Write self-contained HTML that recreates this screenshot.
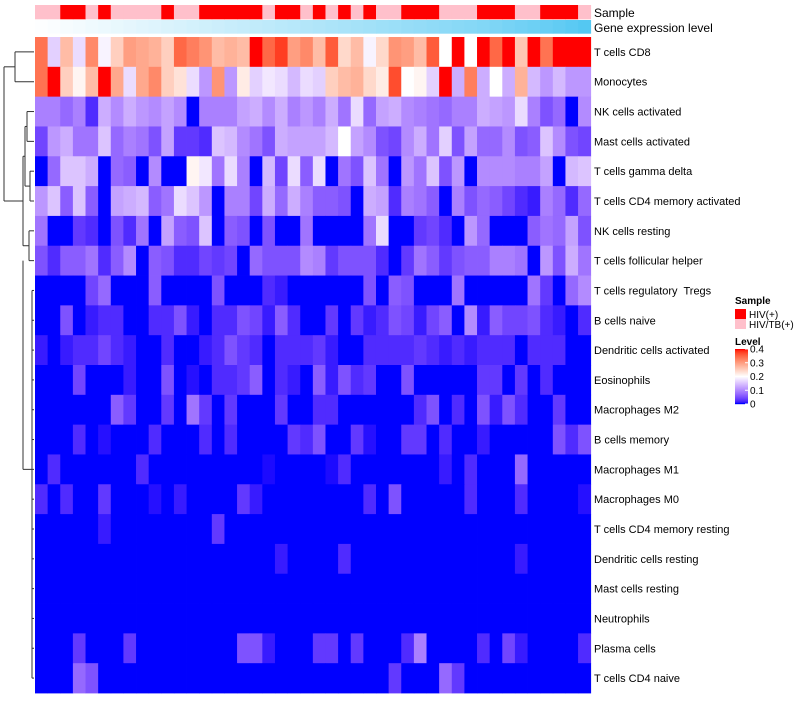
<!DOCTYPE html>
<html><head><meta charset="utf-8"><style>
body{margin:0;background:#fff;width:800px;height:700px;overflow:hidden;font-family:"Liberation Sans",sans-serif}
#labels text{white-space:pre}
</style></head><body>
<svg id="chart" width="800" height="700" xmlns="http://www.w3.org/2000/svg" font-family="Liberation Sans, sans-serif">
<g id="dendro" stroke="#333" stroke-width="1" fill="none"></g>
<g id="cells"></g>
<g id="annot"></g>
<g id="labels" font-size="11" fill="#000"></g>
<text x="594" y="17" font-size="12">Sample</text>
<text x="594" y="32" font-size="12">Gene expression level</text>
<g font-size="10">
<text x="735" y="304" font-weight="bold">Sample</text>
<rect x="735" y="309" width="11" height="10" fill="#ff0000"/>
<text x="749" y="318">HIV(+)</text>
<rect x="735" y="319" width="11" height="10" fill="#ffc0cb"/>
<text x="749" y="328">HIV/TB(+)</text>
</g>
<g font-size="10">
<text x="735" y="345" font-weight="bold">Level</text>
<g id="cbar"></g>
</g>
</svg>
<script>
const rowNames=["T cells CD8","Monocytes","NK cells activated","Mast cells activated","T cells gamma delta","T cells CD4 memory activated","NK cells resting","T cells follicular helper","T cells regulatory  Tregs","B cells naive","Dendritic cells activated","Eosinophils","Macrophages M2","B cells memory","Macrophages M1","Macrophages M0","T cells CD4 memory resting","Dendritic cells resting","Mast cells resting","Neutrophils","Plasma cells","T cells CD4 naive"];
const sampleGroup="PPRRPRPPPPRPPRRRRRPRRPRPRPRPPRRRPPPRRRPPRRRP".split("");
const geneExpr=[0.01,0.03,0.05,0.07,0.09,0.11,0.13,0.15,0.17,0.19,0.21,0.23,0.25,0.27,0.29,0.31,0.33,0.35,0.37,0.39,0.41,0.43,0.45,0.47,0.49,0.51,0.53,0.55,0.57,0.59,0.61,0.63,0.65,0.67,0.69,0.71,0.74,0.77,0.80,0.83,0.86,0.89,0.93,0.97];
const levelTicks=[0,0.1,0.2,0.3,0.4];
const r0=[.34,.16,.27,.17,.32,.19,.25,.30,.29,.28,.25,.35,.33,.31,.27,.28,.27,.42,.35,.38,.30,.32,.27,.36,.24,.27,.19,.24,.31,.30,.27,.36,.2,.42,.2,.42,.35,.42,.26,.42,.34,.45,.45,.4];
const r1=[.34,.42,.25,.21,.27,.42,.29,.17,.29,.32,.25,.23,.17,.11,.31,.11,.22,.16,.18,.17,.14,.17,.16,.25,.27,.28,.24,.22,.37,.2,.21,.16,.42,.13,.33,.13,.2,.13,.28,.14,.11,.14,.11,.11];
const r2=[.09,.09,.07,.09,.02,.13,.10,.13,.11,.10,.12,.10,0,.09,.09,.09,.12,.13,.10,.13,.09,.11,.09,.13,.08,.17,.07,.12,.13,.10,.09,.08,.07,.09,.09,.13,.12,.11,.17,.09,.05,.07,0,.10];
const r3=[.04,.11,.13,.08,.08,.15,.07,.09,.08,.05,.12,.03,.03,.02,.15,.14,.10,.08,.05,.13,.12,.12,.12,.14,.2,.12,.10,.05,.04,.10,.13,.08,.16,.05,.12,.07,.07,.10,.05,.06,.15,.10,.05,.04];
const r4=[0,.07,.15,.15,.13,0,.07,.06,0,.10,0,0,.21,.18,.08,.17,.09,0,.14,.04,.17,.06,.17,0,.08,.05,.15,.08,0,.11,.08,.15,.05,.11,0,.10,.10,.10,.09,.09,.12,0,.14,.15];
const r5=[.11,.15,.06,.15,.06,0,.12,.13,.14,.06,.08,.17,.15,.11,0,.09,.09,.04,.13,.07,.13,.09,.06,.06,.05,0,.13,.12,.02,.09,.08,.06,0,.09,.05,.07,.06,.04,.02,.01,.09,.07,.02,.07];
const r6=[.08,0,0,.03,.02,0,.05,.02,.08,0,.12,.06,.05,.15,0,.06,.05,0,.05,0,0,.08,0,0,0,0,.08,.17,0,0,.03,.04,.02,0,.11,.07,0,0,0,.06,.08,.07,.12,.05];
const r7=[.05,.02,.06,.06,.08,.02,.06,.10,0,.06,.05,.02,.02,.04,.03,.04,0,.07,.05,.05,.05,.10,.09,.03,.05,.05,.05,.02,0,.03,.08,.06,.03,.05,.06,.06,.09,.09,.08,0,.11,.05,.13,.08];
const r8=[0,0,0,0,.04,.07,0,0,0,.06,0,0,0,0,.05,0,0,0,.02,.01,0,0,0,0,0,0,.05,0,.06,.05,0,0,0,.08,0,0,0,0,0,.08,.03,0,.07,.10];
const r9=[0,0,.05,0,.01,.02,.02,0,0,.02,.02,.05,.01,0,.02,.02,.05,.04,.01,.06,.02,0,0,.03,0,.03,.01,.02,.05,.04,.01,.04,.06,0,.10,.01,.06,.04,.04,.05,.02,.01,0,.02];
const r10=[.01,0,.01,.02,.02,.04,.02,.01,0,0,.02,0,0,.01,.02,.05,.03,.02,0,.02,.02,.02,.03,.01,0,0,.02,.02,.02,.02,.03,.02,.01,.02,.01,.02,.02,.02,0,.02,.02,.02,0,0];
const r11=[0,0,0,.04,0,0,0,.01,0,0,.05,0,.005,0,.02,.02,.03,.06,0,.02,.01,0,.06,.01,.05,.02,.03,0,0,.05,0,0,0,0,0,.03,.03,0,.03,0,.02,0,0,0];
const r12=[0,0,0,0,0,0,.06,.03,0,0,.03,0,.08,.03,0,.03,0,0,0,.03,0,0,.02,.02,0,0,0,0,0,0,.02,.05,0,.02,0,.05,.01,.05,.02,0,0,.03,0,0];
const r13=[0,0,0,.02,0,.005,0,0,0,.02,0,0,0,.02,0,.02,0,0,0,0,.03,.02,.05,0,0,.03,.005,0,0,.03,.03,0,.02,0,0,.01,0,0,0,0,0,.05,.02,.05];
const r14=[0,.02,0,0,0,0,0,0,.02,0,0,0,0,0,0,0,0,0,.003,0,0,0,0,.003,.02,0,0,0,0,0,0,0,.01,0,.02,0,0,0,.07,0,0,0,0,0];
const r15=[.02,0,.02,0,0,.03,0,0,0,.005,0,.01,0,0,0,0,.03,.01,0,0,0,0,0,0,0,0,.02,0,.05,0,0,0,0,0,.02,0,0,0,.02,0,0,0,0,.005];
const r16=[0,0,0,0,0,.01,0,0,0,0,0,0,0,0,.03,0,0,0,0,0,0,0,0,0,0,0,0,0,0,0,0,0,0,0,0,0,0,0,0,0,0,0,0,0];
const r17=[0,0,0,0,0,0,0,0,0,0,0,0,0,0,0,0,0,0,0,.01,0,0,0,0,.02,0,0,0,0,0,0,0,0,0,0,0,0,0,.01,0,0,0,0,0];
const r18=[0,0,0,0,0,0,0,0,0,0,0,0,0,0,0,0,0,0,0,0,0,0,0,0,0,0,0,0,0,0,0,0,0,0,0,0,0,0,0,0,0,0,0,0];
const r19=[0,0,0,0,0,0,0,0,0,0,0,0,0,0,0,0,0,0,0,0,0,0,0,0,0,0,0,0,0,0,0,0,0,0,0,0,0,0,0,0,0,0,0,0];
const r20=[0,0,0,.03,0,0,0,.03,0,0,0,0,0,0,0,0,.05,.05,.01,0,0,0,.03,.03,0,.03,0,0,0,.02,.09,0,0,0,0,.02,0,.04,.01,0,0,0,0,.02];
const r21=[0,0,0,.07,.05,0,0,0,0,0,0,0,0,0,0,0,0,0,0,0,0,0,0,0,0,0,0,0,.03,0,0,0,.07,.03,0,0,0,0,0,0,0,0,0,0];
const values=[r0,r1,r2,r3,r4,r5,r6,r7,r8,r9,r10,r11,r12,r13,r14,r15,r16,r17,r18,r19,r20,r21];

const NS="http://www.w3.org/2000/svg";
const X0=35,X1=590.7,Y0=37,Y1=693;
const nCol=sampleGroup.length,nRow=rowNames.length;
const cw=(X1-X0)/nCol,rh=(Y1-Y0)/nRow;
const xPos=c=>X0+c*cw, yPos=r=>Y0+r*rh;
function lin(c){c/=255;return c<=0.04045?c/12.92:Math.pow((c+0.055)/1.055,2.4)}
function unl(c){c=c<=0.0031308?12.92*c:1.055*Math.pow(c,1/2.4)-0.055;return Math.max(0,Math.min(255,Math.round(c*255)))}
function toLab(r,g,b){r=lin(r);g=lin(g);b=lin(b);
 let x=(0.4124*r+0.3576*g+0.1805*b)/0.95047,y=0.2126*r+0.7152*g+0.0722*b,z=(0.0193*r+0.1192*g+0.9505*b)/1.08883;
 const f=t=>t>0.008856?Math.cbrt(t):7.787*t+16/116;
 return [116*f(y)-16,500*(f(x)-f(y)),200*(f(y)-f(z))]}
function fromLab(L,a,bb){let fy=(L+16)/116,fx=fy+a/500,fz=fy-bb/200;
 const g=t=>t*t*t>0.008856?t*t*t:(t-16/116)/7.787;
 let x=g(fx)*0.95047,y=g(fy),z=g(fz)*1.08883;
 return [unl(3.2406*x-1.5372*y-0.4986*z),unl(-0.9689*x+1.8758*y+0.0415*z),unl(0.0557*x-0.2040*y+1.0570*z)]}
const LB=toLab(0,0,255),LW=toLab(255,255,255),LR=toLab(255,0,0);
function colorOf(v){v=Math.max(0,Math.min(0.4,v));let a,b,t;
 if(v<=0.2){a=LB;b=LW;t=v/0.2}else{a=LW;b=LR;t=(v-0.2)/0.2}
 const c=fromLab(a[0]+(b[0]-a[0])*t,a[1]+(b[1]-a[1])*t,a[2]+(b[2]-a[2])*t);return `rgb(${c[0]},${c[1]},${c[2]})`}
function geneColor(v){const r=Math.round(255+(79-255)*v),g=Math.round(255+(198-255)*v),b=Math.round(255+(242-255)*v);return `rgb(${r},${g},${b})`}
function mk(tag,attrs,parent){const e=document.createElementNS(NS,tag);for(const k in attrs)e.setAttribute(k,attrs[k]);parent.appendChild(e);return e}

const cells=document.getElementById('cells');
for(let r=0;r<nRow;r++)for(let c=0;c<nCol;c++){
 const e=mk('rect',{x:xPos(c),y:yPos(r),width:cw+0.4,height:rh+0.4,fill:colorOf(values[r][c])},cells);
 
 
}
const annot=document.getElementById('annot');
for(let c=0;c<nCol;c++){
 const s=mk('rect',{x:xPos(c),y:5,width:cw+0.4,height:14.3,fill:sampleGroup[c]==='R'?'#ff0000':'#ffc0cb'},annot);
 
 
 const g=mk('rect',{x:xPos(c),y:20,width:cw+0.4,height:13.7,fill:geneColor(geneExpr[c])},annot);
 
 
}
const labels=document.getElementById('labels');
rowNames.forEach((n,r)=>{
 const t=mk('text',{x:594,y:yPos(r)+rh/2+4},labels);t.textContent=n;
 
 
});
const cb=document.getElementById('cbar');
const CB0=349,CB1=404;
for(let i=0;i<55;i++){const v=0.4*(1-i/54);
 const e=mk('rect',{x:735,y:CB0+i,width:13,height:1.2,fill:colorOf(v)},cb);
 
 
}
levelTicks.forEach(v=>{const y=CB1-(v/0.4)*(CB1-CB0);
 const l=mk('line',{x1:745,x2:748,y1:y,y2:y,stroke:'#fff'},cb);
 
 
 const t=mk('text',{x:750,y:y+3.5},cb);t.textContent=v===0?'0':String(v);
 
 
});
const d=document.getElementById('dendro');
const yc=r=>yPos(r)+rh/2;
const segs=[
 [34,yc(0),15,yc(0)],[34,yc(1),15,yc(1)],[15,yc(0),15,yc(1)],
 [34,yc(2),27,yc(2)],[34,yc(3),27,yc(3)],[27,yc(2),27,yc(3)],
 [34,yc(4),30,yc(4)],[34,yc(5),30,yc(5)],[30,yc(4),30,yc(5)],
 [30,(yc(4)+yc(5))/2,25,(yc(4)+yc(5))/2],[27,(yc(2)+yc(3))/2,25,(yc(2)+yc(3))/2],
 [25,(yc(2)+yc(3))/2,25,(yc(4)+yc(5))/2],
 [34,yc(6),29,yc(6)],[34,yc(7),29,yc(7)],[29,yc(6),29,yc(7)],
 [25,(yc(2)+yc(5))/2,23,(yc(2)+yc(5))/2],[29,(yc(6)+yc(7))/2,23,(yc(6)+yc(7))/2],
 [23,(yc(2)+yc(5))/2,23,(yc(6)+yc(7))/2],
 [23,yc(5),4,yc(5)],[15,(yc(0)+yc(1))/2,4,(yc(0)+yc(1))/2],[4,(yc(0)+yc(1))/2,4,yc(5)]
];
for(let r=8;r<nRow;r++)segs.push([34,yc(r),32,yc(r)]);
segs.push([32,yc(8),32,yc(21)],[32,yc(14),23,yc(14)],[23,yc(14),23,yc(7)]);
segs.forEach(s=>{const l=mk('line',{x1:s[0],y1:s[1],x2:s[2],y2:s[3]},d);
 
 
});
</script>
</body></html>
